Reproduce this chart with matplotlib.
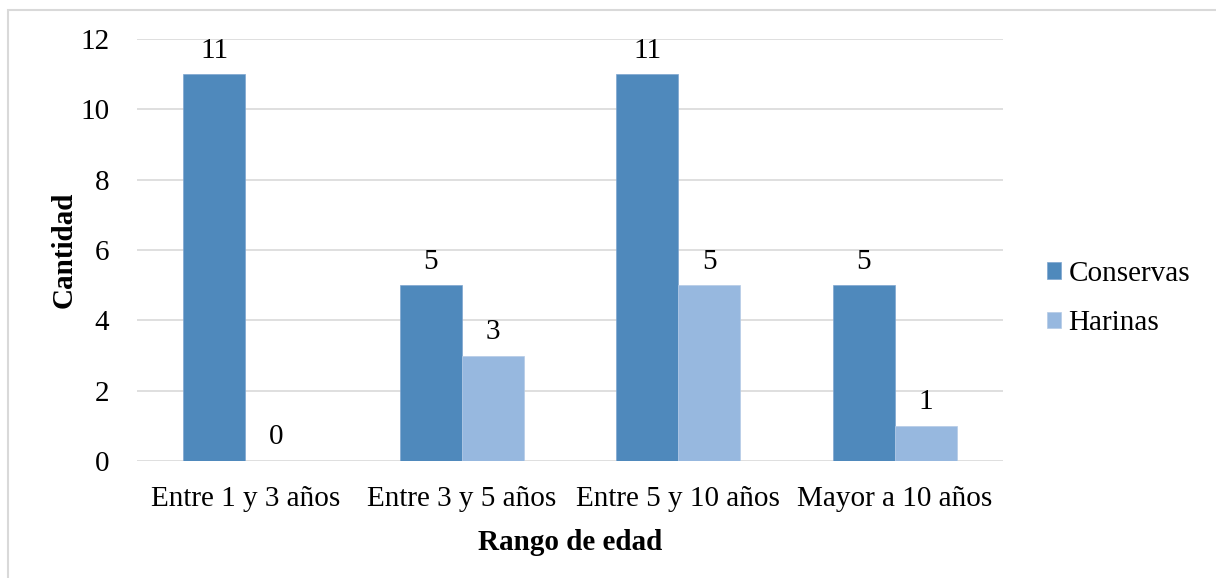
import numpy as np
import matplotlib.pyplot as plt
from matplotlib.patches import Rectangle

plt.rcParams['font.family'] = ['Liberation Serif', 'DejaVu Serif']

categorias = ["Entre 1 y 3 años", "Entre 3 y 5 años", "Entre 5 y 10 años", "Mayor a 10 años"]
conservas = [11, 5, 11, 5]
harinas = [0, 3, 5, 1]

colConservas = "#4F89BC"
colHarinas = "#97B8DF"
fs = 21

fig = plt.figure(figsize=(12.16, 5.78), dpi=100)
ax = fig.add_axes([137/1216, 1 - 461/578, (1003-137)/1216, (461-39)/578])

# light frame around the whole chart
fig.patches.append(Rectangle((8/1216, -0.01), 1.1, 1 - 10/578 + 0.01, transform=fig.transFigure,
                             fill=False, edgecolor="#D9D9D9", linewidth=1.5))

x = np.arange(len(categorias))
w = 0.286

b1 = ax.bar(x - w/2, conservas, w, color=colConservas, edgecolor="#7FA6CF", linewidth=0.5, label="Conservas", zorder=3)
b2 = ax.bar(x + w/2, harinas, w, color=colHarinas, edgecolor="#B5CBE6", linewidth=0.5, label="Harinas", zorder=3)

for bars, vals in ((b1, conservas), (b2, harinas)):
    for r, v in zip(bars, vals):
        ax.text(r.get_x() + r.get_width()/2, v + 0.3, str(v), ha="center", va="bottom", fontsize=fs)

ax.set_xlim(-0.5, len(categorias) - 0.5)
ax.set_ylim(0, 12)
ax.set_yticks(range(0, 13, 2))
ax.set_xticks(x)
ax.set_xticklabels(categorias)
ax.tick_params(axis="both", length=0, labelsize=fs)
ax.tick_params(axis="y", pad=20)
ax.tick_params(axis="x", pad=18)

ax.grid(axis="y", color="#D9D9D9", linewidth=1.2, zorder=0)
for s in ax.spines.values():
    s.set_visible(False)

ax.set_xlabel("Rango de edad", fontsize=fs, fontweight="bold", labelpad=12)
ax.set_ylabel("Cantidad", fontsize=fs, fontweight="bold", labelpad=2)

ax.legend(loc="center left", bbox_to_anchor=(1.02, 0.385), frameon=False, fontsize=fs,
          handlelength=0.5, handleheight=0.5, handletextpad=0.25, labelspacing=0.8)

plt.savefig("out.png", dpi=100)
